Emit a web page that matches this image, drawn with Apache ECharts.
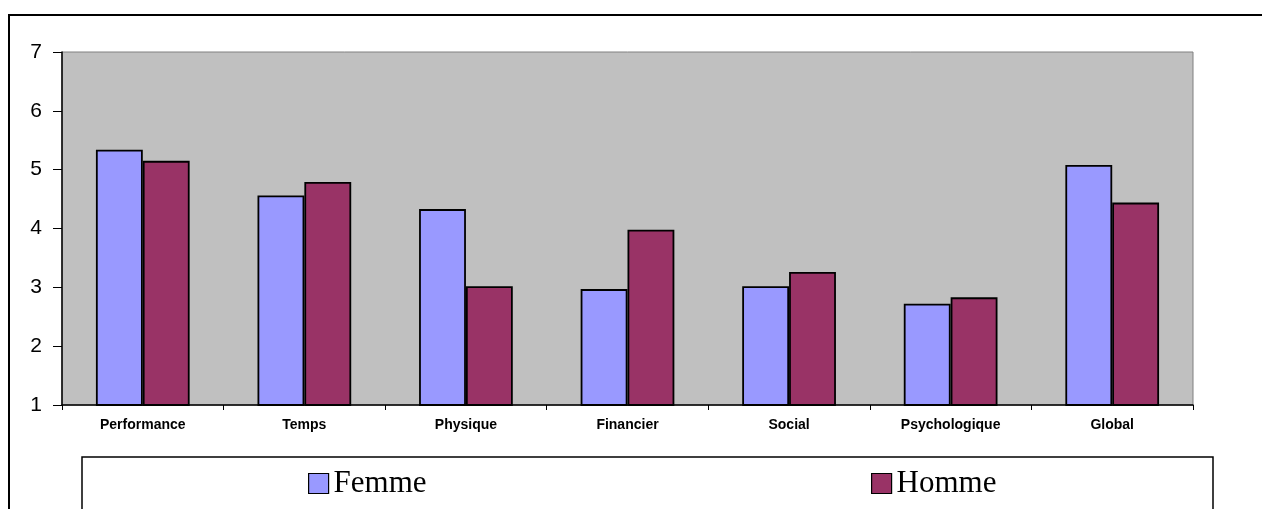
<!DOCTYPE html>
<html>
<head>
<meta charset="utf-8">
<script src="https://cdn.jsdelivr.net/npm/echarts@6/dist/echarts.min.js"></script>
<style>
  html, body { margin: 0; padding: 0; background: #fff; }
  #chart { width: 1262px; height: 509px; }
</style>
</head>
<body>
<div id="chart"></div>
<script>
const categories = ['Performance', 'Temps', 'Physique', 'Financier', 'Social', 'Psychologique', 'Global'];
const femme = [5.34, 4.56, 4.33, 2.97, 3.02, 2.72, 5.08];
const homme = [5.15, 4.79, 3.02, 3.98, 3.26, 2.83, 4.44];
const yTicks = { min: 1, max: 7, step: 1 };

const chart = echarts.init(document.getElementById('chart'));

const legendText = {
  fontFamily: 'Liberation Serif',
  fontSize: 31,
  color: '#000'
};

chart.setOption({
  animation: false,
  grid: {
    left: 62, right: 69, top: 52, bottom: 104,
    show: true,
    backgroundColor: '#C0C0C0',
    borderColor: '#808080',
    borderWidth: 1
  },
  graphic: [
    // cadre extérieur
    { type: 'rect', shape: { x: 9, y: 15, width: 1270, height: 520 }, style: { fill: 'none', stroke: '#000', lineWidth: 2 }, z: -1 },
    // cadre de la légende
    { type: 'rect', shape: { x: 82, y: 457, width: 1131, height: 60 }, style: { fill: '#fff', stroke: '#000', lineWidth: 1.5 }, z: -1 }
  ],
  legend: [
    {
      data: ['Femme'], left: 303, top: 463,
      icon: 'rect', itemWidth: 20, itemHeight: 20, itemGap: 8,
      itemStyle: { borderColor: '#000', borderWidth: 1.2 },
      textStyle: legendText
    },
    {
      data: ['Homme'], left: 866, top: 463,
      icon: 'rect', itemWidth: 20, itemHeight: 20,
      itemStyle: { borderColor: '#000', borderWidth: 1.2 },
      textStyle: legendText
    }
  ],
  xAxis: {
    type: 'category',
    data: categories,
    axisLine: { lineStyle: { color: '#000', width: 1.5 } },
    axisTick: { show: true, length: 5, lineStyle: { color: '#000' } },
    axisLabel: {
      color: '#000',
      fontFamily: 'Liberation Sans',
      fontWeight: 'bold',
      fontSize: 14,
      margin: 13
    }
  },
  yAxis: {
    type: 'value',
    min: yTicks.min,
    max: yTicks.max,
    interval: yTicks.step,
    splitLine: { show: false },
    axisLine: { show: true, lineStyle: { color: '#000', width: 1.5 } },
    axisTick: { show: true, length: 9, lineStyle: { color: '#000' } },
    axisLabel: {
      color: '#000',
      fontFamily: 'Liberation Sans',
      fontSize: 21,
      margin: 20
    }
  },
  series: [
    {
      name: 'Femme',
      type: 'bar',
      data: femme,
      barGap: '0%',
      barCategoryGap: '42%',
      itemStyle: { color: '#9999FF', borderColor: '#000', borderWidth: 1.8 }
    },
    {
      name: 'Homme',
      type: 'bar',
      data: homme,
      itemStyle: { color: '#993366', borderColor: '#000', borderWidth: 1.8 }
    }
  ]
});
</script>
</body>
</html>
